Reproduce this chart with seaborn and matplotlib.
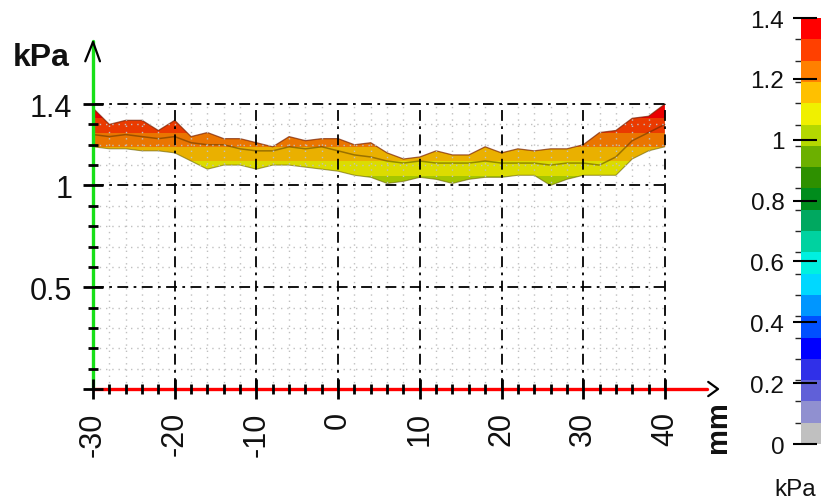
import numpy as np
import matplotlib
matplotlib.use("Agg")
import matplotlib.pyplot as plt
import seaborn as sns
from matplotlib.colors import ListedColormap, BoundaryNorm, to_rgb
from matplotlib.patches import Polygon
from matplotlib.ticker import FixedLocator, FixedFormatter
import matplotlib.cm as cm

sns.set_theme(style="white")
plt.rcParams["font.family"] = ["Liberation Sans", "DejaVu Sans"]

# ---------------- data ----------------
x_mm = [-30, -28, -26, -24, -22, -20, -18, -16, -14, -12, -10, -8, -6, -4, -2, 0,
        2, 4, 6, 8, 10, 12, 14, 16, 18, 20, 22, 24, 26, 28, 30, 32, 34, 36, 38, 40]
upper_kpa = [1.38, 1.30, 1.32, 1.32, 1.27, 1.32, 1.24, 1.26, 1.23, 1.23, 1.21, 1.19,
             1.24, 1.22, 1.23, 1.23, 1.20, 1.21, 1.16, 1.13, 1.14, 1.17, 1.15, 1.15,
             1.19, 1.16, 1.18, 1.17, 1.18, 1.18, 1.20, 1.26, 1.27, 1.33, 1.34, 1.40]
lower_kpa = [1.19, 1.18, 1.18, 1.17, 1.17, 1.16, 1.12, 1.08, 1.10, 1.10, 1.08, 1.10,
             1.10, 1.09, 1.08, 1.07, 1.05, 1.04, 1.01, 1.02, 1.04, 1.03, 1.01, 1.03,
             1.04, 1.04, 1.05, 1.05, 1.00, 1.03, 1.05, 1.05, 1.05, 1.13, 1.17, 1.19]
ridge_kpa = [1.25, 1.24, 1.25, 1.24, 1.23, 1.24, 1.21, 1.20, 1.20, 1.18, 1.17, 1.17,
             1.19, 1.18, 1.19, 1.17, 1.15, 1.14, 1.12, 1.11, 1.12, 1.11, 1.11, 1.11,
             1.12, 1.11, 1.11, 1.11, 1.10, 1.11, 1.11, 1.10, 1.14, 1.22, 1.26, 1.30]

x_ticks = [-30, -20, -10, 0, 10, 20, 30, 40]
x_tick_labels = ["-30", "-20", "-10", "0", "10", "20", "30", "40"]
x_minor = [-28, -26, -24, -22, -18, -16, -14, -12, -8, -6, -4, -2, 2, 4, 6, 8,
           12, 14, 16, 18, 22, 24, 26, 28, 32, 34, 36, 38]
y_ticks = [0, 0.5, 1, 1.4]
y_tick_labels = ["", "0.5", "1", "1.4"]
y_minor = [0.1, 0.2, 0.3, 0.4, 0.6, 0.7, 0.8, 0.9, 1.1, 1.2, 1.3]

cbar_ticks = [0, 0.2, 0.4, 0.6, 0.8, 1.0, 1.2, 1.4]
cbar_tick_labels = ["0", "0.2", "0.4", "0.6", "0.8", "1", "1.2", "1.4"]
level_colors = ["#c0c0c0", "#9090d0", "#6060d8", "#3030e8", "#0000ff", "#0050ff",
                "#0096ff", "#00d8ff", "#00f0e0", "#00d2a0", "#00a860", "#008c1c",
                "#2e9000", "#6cb000", "#b4d800", "#f0f000", "#ffc000", "#ff8000",
                "#ff4000", "#ff0000"]
level_bounds = list(np.linspace(0, 1.4, 21))

# ---------------- figure ----------------
fig = plt.figure(figsize=(8.21, 5.02), dpi=100)
ax = fig.add_axes([0.1133, 0.2231, 0.7513, 0.6893])
ax.set_facecolor("white")
for s in ax.spines.values():
    s.set_visible(False)

cmap = ListedColormap(level_colors)
norm = BoundaryNorm(level_bounds, cmap.N)
band_cmap = ListedColormap([tuple(0.92 * v for v in to_rgb(c)) for c in level_colors])

# band surface: gradient coloured by pressure, clipped to the band outline
verts = list(zip(x_mm, upper_kpa)) + list(zip(x_mm[::-1], lower_kpa[::-1]))
poly = Polygon(verts, closed=True, facecolor="none", edgecolor="none")
ax.add_patch(poly)
ramp = np.repeat(np.linspace(0.95, 1.45, 500)[:, None], 2, axis=1)
im = ax.imshow(ramp, extent=(-30, 40, 0.95, 1.45), origin="lower", cmap=band_cmap,
               norm=norm, aspect="auto", interpolation="nearest", zorder=3)
im.set_clip_path(poly)

sns.lineplot(x=x_mm, y=upper_kpa, ax=ax, color="#7a2000", lw=0.9, alpha=0.7, zorder=4)
sns.lineplot(x=x_mm, y=lower_kpa, ax=ax, color="#6a6000", lw=0.8, alpha=0.6, zorder=4)
sns.lineplot(x=x_mm, y=ridge_kpa, ax=ax, color="#3a2500", lw=1.1, alpha=0.45, zorder=4)

# grids (only inside the data box)
ax.vlines(x_minor, 0, 1.4, colors="#c0c0c0", linestyles=(0, (1, 3.5)), lw=1.0, zorder=5)
ax.hlines(y_minor, -30, 40, colors="#c0c0c0", linestyles=(0, (1, 3.5)), lw=1.0, zorder=5)
ax.vlines(x_ticks[1:], 0, 1.4, colors="black", linestyles=(0, (6, 3, 1.5, 3)),
          lw=1.3, zorder=6)
ax.hlines(y_ticks[1:], -30, 40, colors="black", linestyles=(0, (6, 3, 1.5, 3)),
          lw=1.3, zorder=6)

# coloured axis lines with arrow heads
ax.plot([-30, -30], [0, 1.71], color="#18e018", lw=2.4, zorder=7, clip_on=False)
ax.plot([-30, 45.2], [0, 0], color="#ff0000", lw=2.4, zorder=7, clip_on=False)
ax.plot([-30.95, -30, -29.15], [1.61, 1.705, 1.61], color="black", lw=1.6,
        zorder=8, clip_on=False)
ax.plot([45.3, 46.5, 45.3], [0.035, 0.0, -0.035], color="black", lw=1.6,
        zorder=8, clip_on=False)

ax.set_xlim(-30, 45.5)
ax.set_ylim(0, 1.70)
ax.set_axisbelow(False)
ax.xaxis.set_zorder(9)
ax.yaxis.set_zorder(9)

ax.xaxis.set_major_locator(FixedLocator(x_ticks))
ax.xaxis.set_major_formatter(FixedFormatter(x_tick_labels))
ax.xaxis.set_minor_locator(FixedLocator(x_minor))
ax.yaxis.set_major_locator(FixedLocator(y_ticks))
ax.yaxis.set_major_formatter(FixedFormatter(y_tick_labels))
ax.yaxis.set_minor_locator(FixedLocator(y_minor))

ax.tick_params(axis="both", which="major", direction="inout", length=14, width=2.0,
               color="black", labelcolor="#111111", labelsize=22,
               bottom=True, left=True)
ax.tick_params(axis="both", which="minor", direction="inout", length=6.5, width=2.0,
               color="black", bottom=True, left=True)
ax.tick_params(axis="x", which="major", pad=9, labelrotation=90)
ax.tick_params(axis="y", which="major", pad=8)

fig.text(0.016, 0.868, "kPa", fontsize=23, fontweight="bold", color="#111111",
         ha="left", va="baseline")
fig.text(0.8745, 0.150, "mm", fontsize=21, fontweight="bold", color="#111111",
         rotation=90, ha="center", va="center")

# ---------------- colour bar ----------------
cax = fig.add_axes([0.9756, 0.1135, 0.0244, 0.8486])
sm = cm.ScalarMappable(norm=norm, cmap=cmap)
cb = fig.colorbar(sm, cax=cax, orientation="vertical", ticklocation="left",
                  drawedges=False)
cb.outline.set_visible(False)
cb.set_ticks(cbar_ticks)
cb.set_ticklabels(cbar_tick_labels)
cax.tick_params(axis="y", direction="out", length=6, width=1.5, color="black",
                labelsize=17.5, pad=6, labelcolor="#111111")
cax.hlines(cbar_ticks, 0, 0.8, colors="black", lw=1.5, clip_on=False)
fig.text(0.968, 0.024, "kPa", fontsize=17.5, color="#111111", ha="center", va="center")

fig.savefig("out.png", dpi=100)
